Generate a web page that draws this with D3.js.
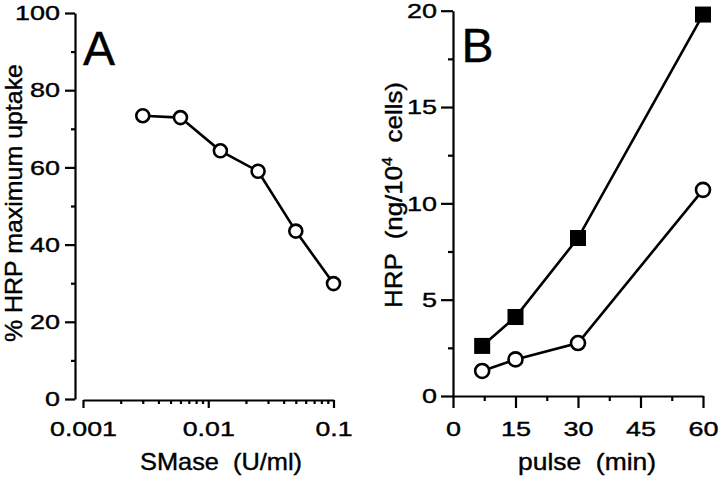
<!DOCTYPE html>
<html>
<head>
<meta charset="utf-8">
<script src="https://cdn.jsdelivr.net/npm/d3@7"></script>
<style>
  html, body { margin: 0; padding: 0; background: #fff; }
  svg { display: block; }
  text { font-family: "Liberation Sans", Arial, Helvetica, sans-serif; fill: #000; stroke: #000; stroke-width: 0.4px; }
</style>
</head>
<body>
<svg id="chart" width="720" height="478"></svg>
<script>
// ---------------- data ----------------
const aDose   = [0.003, 0.006, 0.0125, 0.025, 0.05, 0.1];
const aUptake = [73.4, 72.9, 64.3, 59.0, 43.5, 29.9];

const bPulse   = [7, 15, 30, 60];
const bSquares = [2.6, 4.1, 8.2, 19.8];
const bCircles = [1.3, 1.9, 2.75, 10.7];

const aYTicks = [0, 20, 40, 60, 80, 100];
const aYMinor = [10, 30, 50, 70, 90];
const aXTicks = [0.001, 0.01, 0.1];
const aXLabels = ["0.001", "0.01", "0.1"];
const aXMinor = [0.002, 0.003, 0.004, 0.005, 0.006, 0.007, 0.008, 0.009,
                 0.02, 0.03, 0.04, 0.05, 0.06, 0.07, 0.08, 0.09];

const bXTicks = [0, 15, 30, 45, 60];
const bXMinor = [7.5, 22.5, 37.5, 52.5];
const bYTicks = [0, 5, 10, 15, 20];
const bYMinor = [2.5, 7.5, 12.5, 17.5];

// ---------------- setup ----------------
const svg = d3.select("#chart");
const SW = 2.2;   // axis stroke
const LW = 2.6;   // data line stroke

function labelLen(s) {
  let w = 0;
  for (const ch of s) w += (ch === "." ? 7 : 15);
  return w;
}
function styleAxis(g, withLabels) {
  g.selectAll("path.domain").attr("stroke", "#000").attr("stroke-width", SW);
  g.selectAll(".tick line").attr("stroke", "#000").attr("stroke-width", SW);
  if (withLabels) {
    g.selectAll(".tick text")
      .attr("font-size", 21)
      .attr("font-family", "Liberation Sans, Arial, sans-serif")
      .attr("fill", "#000")
      .each(function () {
        const t = d3.select(this);
        t.attr("textLength", labelLen(t.text())).attr("lengthAdjust", "spacingAndGlyphs");
      });
  } else {
    g.selectAll(".tick text").remove();
    g.selectAll("path.domain").remove();
  }
}

// ---------------- Panel A ----------------
const xA = d3.scaleLog().domain([0.001, 0.1]).range([83, 333.5]);
const yA = d3.scaleLinear().domain([0, 100]).range([399, 13]);

const gAy = svg.append("g").attr("transform", "translate(75,0)");
gAy.call(d3.axisLeft(yA).tickValues(aYTicks).tickSize(10).tickSizeOuter(0).tickPadding(5).tickFormat(d3.format("d")));
styleAxis(gAy, true);
const gAyMin = svg.append("g").attr("transform", "translate(75,0)");
gAyMin.call(d3.axisLeft(yA).tickValues(aYMinor).tickSize(4).tickFormat(""));
styleAxis(gAyMin, false);

const gAx = svg.append("g").attr("transform", "translate(0,400)");
gAx.call(d3.axisBottom(xA).tickValues(aXTicks).tickSize(8).tickSizeOuter(0).tickPadding(13)
  .tickFormat((d, i) => aXLabels[i]));
styleAxis(gAx, true);
const gAxMin = svg.append("g").attr("transform", "translate(0,400)");
gAxMin.call(d3.axisBottom(xA).tickValues(aXMinor).tickSize(4).tickFormat(""));
styleAxis(gAxMin, false);

// line + markers A
const ptsA = aDose.map((d, i) => [xA(d), yA(aUptake[i])]);
svg.append("path").attr("d", d3.line()(ptsA))
  .attr("fill", "none").attr("stroke", "#000").attr("stroke-width", LW);
svg.append("g").selectAll("circle").data(ptsA).join("circle")
  .attr("cx", d => d[0]).attr("cy", d => d[1]).attr("r", 6.5)
  .attr("fill", "#fff").attr("stroke", "#000").attr("stroke-width", 2.6);

// titles A
svg.append("text").attr("x", 221).attr("y", 470).attr("text-anchor", "middle")
  .attr("font-size", 24).style("white-space", "pre")
  .attr("textLength", 162).attr("lengthAdjust", "spacingAndGlyphs")
  .text("SMase  (U/ml)");
svg.append("text").attr("transform", "translate(22,203) rotate(-90)")
  .attr("text-anchor", "middle").attr("font-size", 24).style("white-space", "pre")
  .attr("textLength", 278).attr("lengthAdjust", "spacingAndGlyphs")
  .text("% HRP maximum uptake");
svg.append("text").attr("x", 83).attr("y", 65).attr("font-size", 48).text("A");

// ---------------- Panel B ----------------
const xB = d3.scaleLinear().domain([0, 60]).range([453, 703]);
const yB = d3.scaleLinear().domain([0, 20]).range([396, 10.7]);

const gBy = svg.append("g").attr("transform", "translate(453,0)");
gBy.call(d3.axisLeft(yB).tickValues(bYTicks).tickSize(12).tickSizeOuter(0).tickPadding(4).tickFormat(d3.format("d")));
styleAxis(gBy, true);
const gByMin = svg.append("g").attr("transform", "translate(453,0)");
gByMin.call(d3.axisLeft(yB).tickValues(bYMinor).tickSize(5).tickFormat(""));
styleAxis(gByMin, false);

const gBx = svg.append("g").attr("transform", "translate(0,396)");
gBx.call(d3.axisBottom(xB).tickValues(bXTicks).tickSize(12).tickSizeOuter(0).tickPadding(13).tickFormat(d3.format("d")));
styleAxis(gBx, true);
const gBxMin = svg.append("g").attr("transform", "translate(0,396)");
gBxMin.call(d3.axisBottom(xB).tickValues(bXMinor).tickSize(5).tickFormat(""));
styleAxis(gBxMin, false);

const ptsSq = bPulse.map((d, i) => [xB(d), yB(bSquares[i])]);
const ptsCi = bPulse.map((d, i) => [xB(d), yB(bCircles[i])]);
svg.append("path").attr("d", d3.line()(ptsSq))
  .attr("fill", "none").attr("stroke", "#000").attr("stroke-width", LW);
svg.append("path").attr("d", d3.line()(ptsCi))
  .attr("fill", "none").attr("stroke", "#000").attr("stroke-width", LW);
const SQ = 16;
svg.append("g").selectAll("rect").data(ptsSq).join("rect")
  .attr("x", d => d[0] - SQ / 2).attr("y", d => d[1] - SQ / 2)
  .attr("width", SQ).attr("height", SQ).attr("fill", "#000");
svg.append("g").selectAll("circle").data(ptsCi).join("circle")
  .attr("cx", d => d[0]).attr("cy", d => d[1]).attr("r", 7)
  .attr("fill", "#fff").attr("stroke", "#000").attr("stroke-width", 2.6);

// titles B
svg.append("text").attr("x", 587).attr("y", 470).attr("text-anchor", "middle")
  .attr("font-size", 24).style("white-space", "pre")
  .attr("textLength", 138).attr("lengthAdjust", "spacingAndGlyphs")
  .text("pulse  (min)");
const tB = svg.append("text").attr("transform", "translate(402,195) rotate(-90)")
  .attr("text-anchor", "middle").attr("font-size", 24).style("white-space", "pre")
  .attr("textLength", 226).attr("lengthAdjust", "spacingAndGlyphs");
tB.append("tspan").text("HRP  (ng/10");
tB.append("tspan").attr("font-size", 15).attr("dy", -10).text("4");
tB.append("tspan").attr("dy", 10).text("  cells)");
svg.append("text").attr("x", 461.5).attr("y", 62).attr("font-size", 48).text("B");
</script>
</body>
</html>
